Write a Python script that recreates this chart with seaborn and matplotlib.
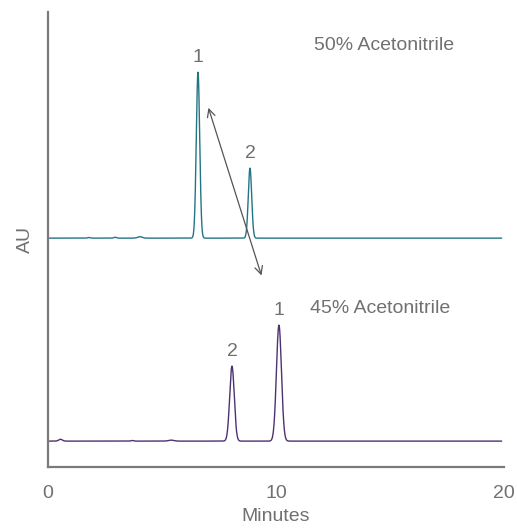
import numpy as np
import pandas as pd
import seaborn as sns
import matplotlib.pyplot as plt

# peak table (minutes, height above baseline, sigma)
top_times = [1.8, 2.95, 4.03, 6.58, 8.86]
top_heights = [0.6, 0.9, 1.5, 166, 70]
top_sigmas = [0.06, 0.06, 0.1, 0.075, 0.075]
top_baseline = 229

bot_times = [0.55, 3.7, 5.4, 8.07, 10.13]
bot_heights = [1.8, 0.6, 1.0, 75, 116]
bot_sigmas = [0.08, 0.06, 0.12, 0.1, 0.11]
bot_baseline = 26

peak_labels_top = ["1", "2"]
peak_labels_bot = ["2", "1"]

t = np.linspace(0.05, 19.9, 3000)


def trace(times, heights, sigmas, base):
    y = np.full_like(t, base, dtype=float)
    for m, h, s in zip(times, heights, sigmas):
        y += h * np.exp(-0.5 * ((t - m) / s) ** 2)
    return y


df = pd.concat([
    pd.DataFrame({"Minutes": t, "AU": trace(top_times, top_heights, top_sigmas, top_baseline), "run": "50%"}),
    pd.DataFrame({"Minutes": t, "AU": trace(bot_times, bot_heights, bot_sigmas, bot_baseline), "run": "45%"}),
])

sns.set_style("white")
plt.rcParams["font.family"] = ["Liberation Sans", "DejaVu Sans"]

fig = plt.figure(figsize=(5.17, 5.29), dpi=100)
ax = fig.add_axes([0.0928, 0.117, 0.882, 0.86])

sns.lineplot(data=df, x="Minutes", y="AU", hue="run", palette={"50%": "#237585", "45%": "#4d3172"},
             linewidth=1.0, legend=False, ax=ax, estimator=None, sort=False)

tc = "#707070"
fs = 14

ax.set_xlim(0, 20)
ax.set_ylim(0, 455)
ax.set_xticks([0, 10, 20])
ax.set_yticks([])
ax.tick_params(axis="x", length=7, width=1, color="#999999", labelsize=fs, labelcolor=tc, pad=6)
for s in ["top", "right"]:
    ax.spines[s].set_visible(False)
for s in ["left", "bottom"]:
    ax.spines[s].set_color("#7a7a7a")
    ax.spines[s].set_linewidth(1.6)

ax.set_xlabel("Minutes", fontsize=fs, color=tc, labelpad=4)
ax.set_ylabel("AU", fontsize=fs, color=tc, labelpad=10)

for m, h, lab in zip(top_times[3:], top_heights[3:], peak_labels_top):
    ax.text(m, top_baseline + h + 6, lab, ha="center", va="bottom", fontsize=fs, color=tc)
for m, h, lab in zip(bot_times[3:], bot_heights[3:], peak_labels_bot):
    ax.text(m, bot_baseline + h + 6, lab, ha="center", va="bottom", fontsize=fs, color=tc)

ax.text(11.65, 422, "50% Acetonitrile", fontsize=fs, color=tc, va="center")
ax.text(11.5, 159, "45% Acetonitrile", fontsize=fs, color=tc, va="center")

ax.annotate("", xy=(7.0, 362), xytext=(9.4, 189),
            arrowprops=dict(arrowstyle="<->", color="#555555", lw=0.9, mutation_scale=14))

fig.savefig("out.png", dpi=100)
